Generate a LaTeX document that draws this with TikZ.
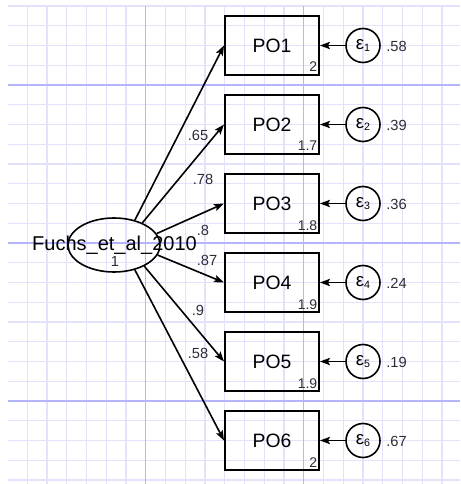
\documentclass[tikz,border=0pt]{standalone}
\usepackage{fontspec}
\setmainfont{Liberation Sans}
\usetikzlibrary{arrows.meta,shapes.geometric,calc}
\definecolor{gridminor}{RGB}{226,226,252}
\definecolor{gridmajor}{RGB}{180,180,255}
\definecolor{numgray}{RGB}{45,45,55}
\newcommand{\errlabel}[1]{ε\raisebox{-2pt}{\fontsize{8}{9}\selectfont #1}}

\begin{document}
\begin{tikzpicture}[x=0.75pt, y=-0.75pt,
  obsbox/.style={draw, line width=1.5pt, minimum width=70.5pt, minimum height=44.25pt,
    inner sep=0pt, font=\fontsize{14.5}{16}\selectfont},
  latent/.style={draw, ellipse, line width=1.2pt, minimum width=69pt, minimum height=40.5pt, inner sep=0pt},
  errnode/.style={draw, circle, line width=1.2pt, minimum size=25.5pt, inner sep=0pt,
    font=\fontsize{14}{15}\selectfont},
  est/.style={text=numgray, inner sep=0pt, font=\fontsize{11}{12}\selectfont},
  cornernum/.style={est, anchor=base east, font=\fontsize{10.5}{12}\selectfont},
  loading/.style={-{Stealth[length=7.5pt,width=5.5pt,inset=1.5pt]}, line width=1.2pt}]
  \useasboundingbox (0,0) rectangle (460,484);
  \fill[white] (0,0) rectangle (460,484);
  % Builder grid
  \foreach \k in {1,...,22}
    \draw[gridminor, line width=0.8pt] ({7.5+\k*19.75},6) -- ({7.5+\k*19.75},484);
  \foreach \k in {0,...,24}
    \draw[gridminor, line width=0.8pt] (8,{6+\k*19.75}) -- (460,{6+\k*19.75});
  \foreach \gx in {145.75,303.75}
    \draw[gridmajor, line width=0.8pt] (\gx,6) -- (\gx,484);
  \foreach \gy in {85,243,401}
    \draw[gridmajor, line width=0.8pt] (8,\gy) -- (460,\gy);
  % Latent factor
  \node[latent] (fuchs) at (114,245) {};
  \node[anchor=base, inner sep=0pt, font=\fontsize{15}{17}\selectfont] (fuchslbl) at (114.5,250.5)
    {Fuchs\_et\_al\_2010};
  \node[est] (fuchsvar) at (115,261) {1};
  % Indicators
  \node[obsbox] (po1) at (272,45.5) {PO1};
  \node[obsbox] (po2) at (272,124.5) {PO2};
  \node[obsbox] (po3) at (272,203.5) {PO3};
  \node[obsbox] (po4) at (272,282.5) {PO4};
  \node[obsbox] (po5) at (272,361.5) {PO5};
  \node[obsbox] (po6) at (272,440.5) {PO6};
  \node[cornernum] (po1int) at ($(po1.south east)+(-2.5,-4)$) {2};
  \node[cornernum] (po2int) at ($(po2.south east)+(-2.5,-4)$) {1.7};
  \node[cornernum] (po3int) at ($(po3.south east)+(-2.5,-4)$) {1.8};
  \node[cornernum] (po4int) at ($(po4.south east)+(-2.5,-4)$) {1.9};
  \node[cornernum] (po5int) at ($(po5.south east)+(-2.5,-4)$) {1.9};
  \node[cornernum] (po6int) at ($(po6.south east)+(-2.5,-4)$) {2};
  % Error terms
  \node[errnode] (e1) at (363,45.5) {\errlabel{1}};
  \node[errnode] (e2) at (363,124.5) {\errlabel{2}};
  \node[errnode] (e3) at (363,203.5) {\errlabel{3}};
  \node[errnode] (e4) at (363,282.5) {\errlabel{4}};
  \node[errnode] (e5) at (363,361.5) {\errlabel{5}};
  \node[errnode] (e6) at (363,440.5) {\errlabel{6}};
  \node[est, anchor=west] (e1var) at (386,46.5) {.58};
  \node[est, anchor=west] (e2var) at (386,125.5) {.39};
  \node[est, anchor=west] (e3var) at (386,204.5) {.36};
  \node[est, anchor=west] (e4var) at (386,283.5) {.24};
  \node[est, anchor=west] (e5var) at (386,362.5) {.19};
  \node[est, anchor=west] (e6var) at (386,441.5) {.67};
  \draw[loading] (e1) -- (po1);
  \draw[loading] (e2) -- (po2);
  \draw[loading] (e3) -- (po3);
  \draw[loading] (e4) -- (po4);
  \draw[loading] (e5) -- (po5);
  \draw[loading] (e6) -- (po6);
  % Loadings
  \draw[loading] (fuchs.50) -- (po1.west);
  \draw[loading] (fuchs.38) -- (po2.west);
  \draw[loading] (fuchs.15) -- (po3.west);
  \draw[loading] (fuchs.-13) -- (po4.west);
  \draw[loading] (fuchs.-35) -- (po5.west);
  \draw[loading] (fuchs.-50) -- (po6.west);
  \node[est] (l2) at (198,135) {.65};
  \node[est] (l3) at (203,179) {.78};
  \node[est] (l4) at (203,230) {.8};
  \node[est] (l5) at (207,260) {.87};
  \node[est] (l6) at (198,310) {.9};
  \node[est] (l7) at (198,353) {.58};
\end{tikzpicture}
\end{document}
